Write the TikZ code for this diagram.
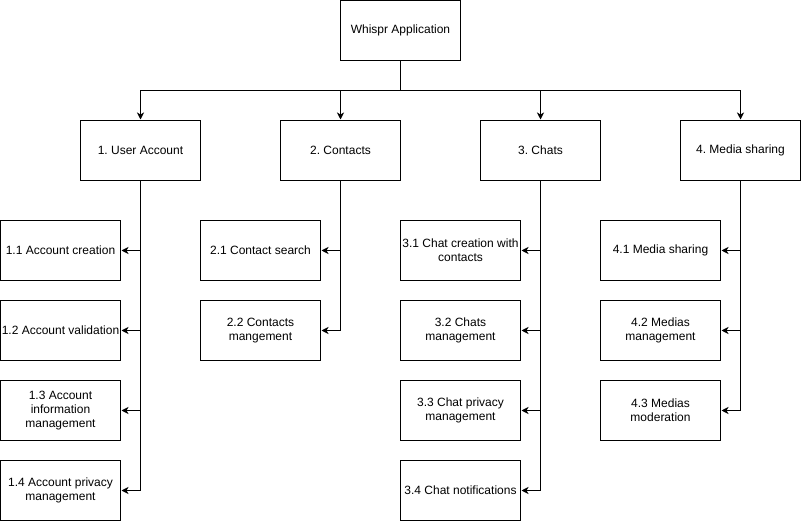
\documentclass[tikz,border=0pt]{standalone}
\usepackage{fontspec}
\setmainfont{Liberation Sans}
\usepackage{tikz}
\usetikzlibrary{arrows.meta,calc}
\frenchspacing

\tikzset{
  box/.style={draw,line width=1pt,minimum width=120pt,minimum height=60pt,
    inner sep=1pt,align=center,
    font=\fontsize{12}{14}\selectfont},
  link/.style={-{Stealth[length=7pt,width=7pt,inset=2pt]},line width=1pt,shorten >=0.5pt}
}

\begin{document}
\begin{tikzpicture}[x=1pt,y=1pt]
      \useasboundingbox (-0.5,0.5) rectangle (800.5,-520.5);
      % top
      \node[box] (root) at (400,-30) {Whispr Application};
      % main parts
      \node[box] (user) at (140,-150) {1. User Account};
      \node[box] (contacts) at (340,-150) {2. Contacts};
      \node[box] (chats) at (540,-150) {3. Chats};
      \node[box] (media) at (740,-150) {4. Media sharing};
      % user account
      \node[box] (acccreate) at (60,-250) {1.1 Account creation};
      \node[box] (accvalid) at (60,-330) {1.2 Account validation};
      \node[box] (accinfo) at (60,-410) {1.3 Account\\information\\management};
      \node[box] (accpriv) at (60,-490) {1.4 Account privacy\\management};
      % contacts
      \node[box] (ctsearch) at (260,-250) {2.1 Contact search};
      \node[box] (ctmanage) at (260,-330) {2.2 Contacts\\mangement};
      % chats
      \node[box] (chcreate) at (460,-250) {3.1 Chat creation with\\contacts};
      \node[box] (chmanage) at (460,-330) {3.2 Chats\\management};
      \node[box] (chpriv) at (460,-410) {3.3 Chat privacy\\management};
      \node[box] (chnotif) at (460,-490) {3.4 Chat notifications};
      % media
      \node[box] (mdshare) at (660,-250) {4.1 Media sharing};
      \node[box] (mdmanage) at (660,-330) {4.2 Medias\\management};
      \node[box] (mdmod) at (660,-410) {4.3 Medias\\moderation};
      \coordinate (hub) at ( $ (root.south)+(0,-30) $ );
      \draw[line width=1pt] (root.south) -- (hub);
      \foreach \n in {user,contacts,chats,media}
        \draw[link] (hub) -| (\n.north);
      \foreach \n in {acccreate,accvalid,accinfo,accpriv}
        \draw[link] (user.south) |- (\n.east);
      \foreach \n in {ctsearch,ctmanage}
        \draw[link] (contacts.south) |- (\n.east);
      \foreach \n in {chcreate,chmanage,chpriv,chnotif}
        \draw[link] (chats.south) |- (\n.east);
      \foreach \n in {mdshare,mdmanage,mdmod}
        \draw[link] (media.south) |- (\n.east);
\end{tikzpicture}
\end{document}
